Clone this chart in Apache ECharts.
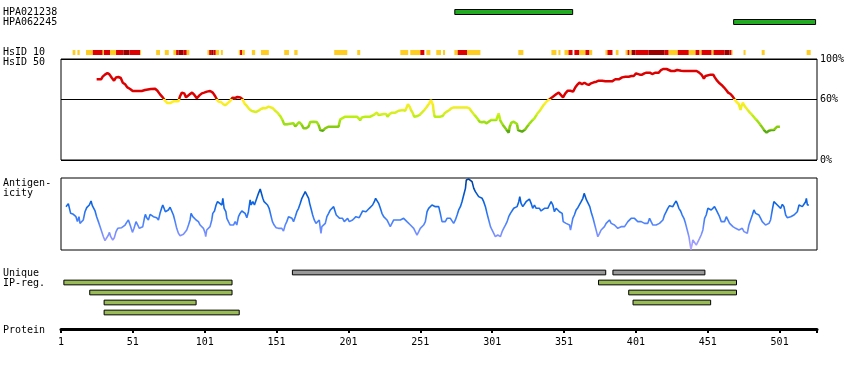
<!DOCTYPE html>
<html><head><meta charset="utf-8">
<script src="https://cdn.jsdelivr.net/npm/echarts@6/dist/echarts.min.js"></script>
<style>html,body{margin:0;padding:0;background:#fff}#c{width:850px;height:370px}</style>
</head><body><div id="c"></div>
<script>
// ---------------- DATA ----------------
const residueMin = 1, residueMax = 527;
const residueTickLabels = [1, 51, 101, 151, 201, 251, 301, 351, 401, 451, 501];
const residueTickMarks = [1, 51, 101, 151, 201, 251, 301, 351, 401, 451, 501, 527];
const percentTicks = [0, 60, 100];

const epitopeNames = ['HPA021238', 'HPA062245'];
const epitopeStart = [275, 469];
const epitopeEnd = [357, 526];

// HsID 10 segments: level 1 = yellow, 2 = red, 3 = dark red
const hsid10Start = [9.1, 12.4, 18.4, 23.1, 30.0, 30.9, 35.1, 39.3, 44.4, 48.6, 56.0, 67.2, 73.2, 79.2, 81.1, 82.7, 86.2, 88.5,
  102.9, 104.1, 105.5, 107.1, 108.7, 112.2, 124.7, 125.6, 127.0, 133.8, 140.1, 156.3, 163.3, 191.1, 207.1,
  237.1, 244.0, 251.0, 255.2, 262.1, 266.8, 274.7, 277.0, 283.5, 319.2, 342.2, 347.1, 351.3, 354.1, 358.2, 361.7, 365.9, 368.7,
  379.8, 381.2, 387.0, 393.8, 395.2, 396.6, 398.0, 400.8, 409.9, 421.0, 423.8, 430.1, 437.8, 442.5, 445.3, 446.7, 453.7,
  455.0, 462.7, 466.2, 467.6, 475.9, 488.5, 519.8];
const hsid10End = [11.0, 14.0, 23.1, 30.0, 30.9, 35.1, 39.3, 44.4, 48.6, 56.0, 56.7, 69.9, 76.0, 81.1, 82.7, 86.2, 88.5, 90.3,
  104.1, 105.5, 107.1, 108.7, 111.0, 113.6, 125.6, 127.0, 128.9, 136.1, 145.6, 159.6, 165.6, 200.2, 209.2,
  242.6, 251.0, 253.8, 258.0, 265.4, 268.2, 277.0, 283.5, 292.8, 322.7, 345.7, 348.5, 354.1, 356.9, 361.7, 365.9, 368.7, 370.6,
  381.2, 384.7, 388.9, 395.2, 396.6, 398.0, 400.8, 409.9, 421.0, 423.8, 430.1, 437.8, 442.5, 445.3, 446.7, 453.7, 455.0,
  462.7, 466.2, 467.6, 468.3, 477.3, 490.6, 522.6];
const hsid10Level = [1, 1, 1, 2, 1, 2, 1, 2, 3, 2, 1, 1, 1, 1, 2, 3, 2, 1,
  1, 2, 3, 2, 1, 1, 1, 2, 1, 1, 1, 1, 1, 1, 1,
  1, 1, 2, 1, 1, 1, 1, 2, 1, 1, 1, 1, 1, 2, 2, 1, 2, 1,
  1, 2, 1, 1, 2, 1, 3, 2, 3, 2, 1, 2, 1, 2, 1, 2, 1,
  2, 3, 2, 1, 1, 1, 1];

const hsid50Pos = [25.8, 28.9, 30.0, 31.6, 33.3, 34.7, 36.3, 37.9, 39.3, 40.9, 42.6, 44.0, 45.6, 47.2, 49.1, 50.9, 53.7, 57.2, 59.5, 60.7,
  63.5, 64.8, 66.5, 68.1, 69.9, 71.8, 73.4, 75.0, 76.9, 79.2, 82.7, 83.9, 85.1, 86.7, 88.0, 89.2, 90.8, 92.2, 93.8, 95.5,
  97.3, 99.0, 100.6, 102.5, 104.8, 106.6, 108.2, 109.4, 110.5, 112.2, 113.6, 115.2, 116.4, 118.7, 120.3, 122.2, 123.8, 125.7, 127.3, 128.6,
  130.3, 132.1, 133.8, 134.9, 136.6, 138.4, 140.1, 141.9, 143.5, 145.4, 146.5, 148.1, 150.0, 151.6, 153.5, 155.1, 156.3, 158.2, 160.5, 161.7,
  162.8, 164.0, 165.1, 166.7, 167.4, 168.6, 169.7, 171.6, 173.2, 174.4, 176.7, 179.0, 180.2, 181.4, 183.2, 184.8, 187.2, 190.6, 194.1, 195.3,
  196.4, 198.8, 202.2, 206.9, 208.0, 209.2, 210.4, 212.7, 216.2, 218.5, 219.6, 220.8, 222.0, 223.1, 225.5, 227.3, 228.2, 229.6, 231.3, 233.6,
  234.7, 235.9, 237.1, 238.9, 240.5, 241.7, 242.4, 243.6, 244.5, 245.6, 246.8, 248.0, 249.1, 250.5, 252.1, 253.8, 255.6, 257.2, 258.4, 259.1,
  259.8, 260.3, 261.0, 262.6, 264.9, 266.5, 267.9, 269.5, 271.2, 272.6, 274.2, 278.8, 283.5, 285.1, 286.3, 288.1, 289.7, 291.1, 292.3, 293.9,
  295.5, 296.9, 298.6, 300.2, 302.0, 303.9, 305.1, 305.5, 306.7, 307.8, 309.0, 310.2, 311.3, 312.5, 313.2, 314.3, 316.0, 317.1, 318.3, 319.0,
  320.2, 321.8, 322.9, 324.1, 325.3, 327.1, 328.7, 330.4, 332.2, 334.1, 336.8, 339.2, 341.0, 342.6, 343.8, 345.7, 347.3, 348.5, 350.3, 351.9,
  353.6, 355.4, 357.3, 358.9, 360.1, 361.7, 363.5, 365.2, 366.6, 368.2, 369.8, 371.7, 373.5, 375.1, 377.5, 379.8, 382.1, 384.4, 386.7, 389.1,
  391.4, 393.7, 396.0, 397.9, 399.5, 401.1, 402.3, 403.7, 405.3, 406.9, 408.3, 410.7, 412.3, 413.4, 414.6, 415.8, 416.9, 418.5, 419.9, 422.3,
  423.9, 425.5, 427.8, 429.7, 430.8, 432.5, 434.3, 436.7, 439.0, 441.3, 443.2, 444.8, 446.4, 447.6, 448.3, 449.4, 450.6, 452.9, 454.8, 455.9,
  457.5, 459.2, 460.6, 462.2, 463.8, 465.2, 466.8, 468.4, 469.6, 471.0, 472.6, 473.8, 474.5, 475.4, 476.6, 478.4, 480.3, 481.9, 483.8, 485.4,
  487.2, 488.9, 490.5, 491.9, 493.5, 495.1, 497.0, 498.2, 499.3, 501.2];
const hsid50Val = [79.9, 79.9, 82.5, 84.5, 86.1, 84.8, 81.5, 78.5, 81.8, 82.2, 81.2, 76.5, 74.9, 71.9, 70.3, 68.3, 68.3, 68.3, 69.3, 70.3,
  70.3, 71.9, 70.6, 68.6, 65.0, 62.0, 58.7, 56.4, 56.4, 58.1, 58.1, 63.4, 66.7, 66.0, 62.0, 63.4, 65.3, 66.7, 64.4, 61.1,
  64.0, 66.0, 66.7, 67.7, 68.3, 66.7, 63.4, 60.1, 57.8, 57.4, 55.8, 54.1, 55.1, 58.4, 61.7, 61.4, 62.4, 62.0, 60.1, 56.1,
  53.5, 50.2, 48.5, 48.8, 47.5, 48.8, 50.5, 51.5, 51.2, 52.8, 54.1, 51.5, 48.8, 46.9, 43.6, 39.6, 35.3, 35.3, 35.9, 37.3,
  36.3, 33.3, 33.7, 37.6, 37.9, 34.7, 31.4, 31.4, 33.0, 37.6, 37.9, 37.6, 34.7, 29.7, 29.0, 31.4, 33.0, 33.0, 33.0, 40.3,
  41.3, 42.9, 42.9, 42.9, 41.3, 39.6, 42.2, 42.9, 42.9, 44.6, 46.2, 46.9, 44.6, 45.5, 45.5, 45.5, 42.9, 45.5, 46.9, 46.9,
  46.2, 48.8, 49.5, 49.5, 48.8, 52.8, 55.1, 52.8, 49.5, 46.9, 42.9, 42.2, 43.6, 44.6, 46.9, 49.5, 52.8, 56.1, 59.4, 60.4,
  54.5, 47.9, 42.9, 42.9, 42.9, 43.6, 46.2, 47.9, 49.5, 51.2, 52.1, 52.1, 52.1, 51.2, 48.8, 45.5, 42.9, 40.3, 37.9, 37.3,
  37.9, 36.3, 37.9, 39.6, 39.6, 39.6, 41.3, 46.2, 38.9, 36.3, 33.7, 31.4, 29.7, 27.1, 33.0, 36.9, 37.9, 37.9, 35.6, 29.7,
  28.1, 28.1, 29.7, 30.4, 33.0, 36.3, 38.9, 41.3, 45.5, 48.8, 54.5, 58.4, 60.1, 62.0, 63.4, 65.3, 66.7, 66.7, 62.0, 66.0,
  68.6, 68.6, 67.7, 72.0, 74.3, 76.5, 75.2, 76.5, 75.2, 74.3, 75.9, 76.9, 77.5, 78.5, 78.5, 77.9, 77.9, 77.9, 79.9, 79.9,
  81.8, 82.5, 82.5, 83.2, 83.2, 85.8, 84.8, 84.5, 84.5, 85.8, 86.5, 86.5, 85.1, 83.8, 86.5, 87.5, 86.5, 89.1, 90.1, 90.1,
  89.1, 88.1, 88.1, 89.1, 90.1, 88.4, 88.1, 88.1, 88.1, 88.1, 88.1, 86.8, 84.8, 82.5, 80.5, 83.2, 84.5, 84.5, 84.5, 81.8,
  78.5, 75.9, 74.3, 72.0, 69.3, 66.7, 65.3, 62.7, 60.1, 57.4, 55.4, 49.5, 53.5, 56.8, 53.5, 50.2, 46.9, 44.6, 41.3, 38.9,
  35.6, 32.3, 29.0, 27.1, 29.0, 29.7, 29.7, 31.0, 33.0, 33.0];

const antigenPos = [4.5, 6.1, 7.3, 7.7, 9.6, 11.4, 12.4, 13.5, 14.2, 15.4, 16.5, 17.7, 18.9, 20.7, 21.9, 22.8, 23.5, 24.7, 25.8, 27.0,
  28.2, 29.3, 30.5, 31.6, 32.8, 34.0, 34.7, 35.6, 37.0, 38.1, 39.3, 40.5, 41.6, 43.2, 44.4, 45.6, 46.7, 47.9, 48.6, 49.5,
  50.7, 51.8, 53.2, 54.4, 55.5, 56.7, 57.9, 59.0, 59.7, 60.6, 61.8, 63.0, 64.1, 65.3, 66.4, 67.6, 68.8, 69.9, 71.1, 71.8,
  72.7, 73.6, 74.6, 75.7, 76.9, 78.1, 79.2, 80.4, 81.5, 82.7, 83.9, 85.0, 86.2, 87.3, 88.5, 89.7, 90.8, 91.5, 92.7, 93.6,
  95.0, 96.6, 97.8, 98.9, 100.1, 101.3, 101.7, 102.4, 103.6, 104.7, 105.9, 106.6, 107.8, 108.9, 109.9, 111.2, 112.9, 113.6, 114.5, 115.7,
  116.4, 117.5, 118.7, 119.8, 121.0, 122.2, 123.3, 124.5, 125.6, 126.8, 128.0, 129.1, 130.3, 131.4, 132.6, 133.3, 134.5, 135.6, 137.2, 138.4,
  139.6, 140.3, 141.4, 142.3, 143.5, 144.7, 145.8, 147.0, 148.1, 149.3, 150.7, 152.3, 153.5, 154.6, 155.8, 157.0, 158.1, 159.3,
  160.5, 161.7, 162.8, 164.0, 165.1, 166.3, 167.5, 168.6, 169.8, 170.9, 172.1, 173.3, 174.0, 174.9, 176.1, 177.2, 178.4, 179.5, 180.7, 181.4,
  181.9, 182.5, 183.7, 184.9, 186.0, 187.2, 188.4, 189.5, 190.7, 191.4, 192.5, 193.7, 194.9, 195.8, 196.9, 198.1, 199.3, 200.4, 201.6, 202.7,
  203.9, 205.1, 206.2, 207.4, 208.5, 209.7, 210.9, 212.0, 213.2, 214.3, 215.5, 216.7, 217.8, 219.0, 219.9, 220.8, 222.0, 223.2, 224.3, 225.5,
  226.6, 227.8, 229.0, 230.1, 231.3, 232.5, 233.6, 234.8, 235.9, 237.1, 238.3, 239.4, 240.6, 241.7, 242.9, 244.1, 245.2, 246.4, 247.5, 248.7,
  249.9, 251.0, 252.2, 253.3, 254.5, 255.7, 256.8, 258.0, 259.1, 260.3, 261.5, 262.6, 263.8, 264.9, 266.1, 267.3, 268.4, 269.6, 270.7, 271.9,
  273.1, 274.2, 275.4, 276.6, 277.7, 278.9, 280.0, 281.2, 282.4, 283.0, 283.5, 284.7, 285.8, 287.0, 288.2, 289.3, 290.5, 291.6, 292.8, 294.0,
  295.1, 296.3, 297.4, 298.6, 299.8, 300.9, 302.1, 303.2, 303.9, 304.9, 305.6, 306.7, 307.9, 309.0, 310.2, 311.4, 312.5, 313.7, 314.8, 316.0,
  317.2, 318.3, 319.5, 320.2, 321.1, 322.3, 323.4, 324.6, 325.8, 326.9, 328.1, 329.2, 330.4, 331.6, 332.7, 333.9, 335.0, 336.2, 337.4, 338.5,
  339.7, 340.8, 342.0, 343.2, 344.3, 345.5, 346.6, 347.8,
  348.5, 349.7, 350.4, 351.3, 352.4, 353.6, 354.8, 355.5, 356.2, 357.1, 358.2, 359.4, 360.6, 361.7, 362.9, 364.1, 365.0, 365.7, 366.6, 367.8,
  368.9, 370.1, 371.2, 372.4, 373.6, 374.5, 375.7, 376.8, 378.0, 379.1, 380.3, 381.5, 382.6, 383.8, 384.9, 386.1, 387.3, 388.4, 389.6, 390.7,
  391.9, 393.1, 394.2, 395.4, 396.5, 397.7, 398.9, 400.0, 401.2, 402.3, 403.5, 404.7, 405.8, 407.0, 408.2, 409.3, 410.5, 411.6, 412.8, 414.0,
  415.1, 416.3, 417.4, 418.6, 419.8, 420.9, 422.1, 423.2, 424.4, 425.6, 426.7, 427.9, 429.0, 429.7, 430.9, 432.1, 433.2, 434.4, 435.5, 436.7,
  437.9, 438.6, 439.3, 440.0, 440.6, 441.8, 443.0, 444.1, 445.3, 446.4, 447.6, 448.8, 449.9, 451.1, 452.3, 453.4, 454.6, 455.7, 456.9, 458.1,
  459.2, 460.4, 461.5, 462.7, 463.9, 465.0, 466.2, 467.3, 468.5, 469.2, 470.4, 471.5, 472.7, 473.8, 475.0, 476.2, 477.3, 478.5, 479.6, 480.8,
  482.0, 483.1, 484.3, 485.4, 486.6, 487.8, 488.9, 490.1, 491.2, 492.4, 493.6, 494.7, 495.9, 497.0, 498.2, 499.4, 500.5, 501.7, 502.9, 504.0,
  505.2, 506.3, 507.5, 508.7, 509.8, 511.0, 512.1, 513.3, 514.5, 515.6, 516.8, 517.9, 519.1, 519.6, 520.3, 521.4];
const antigenVal = [60.2, 64.4, 63.4, 50.9, 49.5, 46.3, 39.4, 46.3, 37.0, 35.7, 41.7, 53.2, 58.8, 62.5, 68.1, 61.6, 60.2, 54.2, 46.3, 39.4,
  32.4, 30.1, 18.5, 13.0, 14.8, 20.8, 24.5, 18.5, 13.9, 17.1, 25.5, 30.1, 27.8, 31.0, 30.1, 34.7, 38.4, 41.7, 44.0, 32.4,
  24.5, 30.1, 39.4, 34.7, 30.1, 29.2, 32.4, 44.0, 49.5, 44.9, 41.7, 49.5, 48.6, 46.3, 48.6, 44.9, 41.7, 50.9, 58.8, 62.5,
  57.9, 53.2, 50.9, 55.6, 59.3, 57.9, 48.6, 39.4, 30.1, 23.2, 19.9, 18.5, 21.8, 24.5, 27.8, 34.7, 41.7, 50.9, 46.3, 44.0,
  41.7, 39.4, 34.7, 37.0, 30.1, 23.2, 18.5, 27.8, 30.1, 32.4, 41.7, 50.9, 54.2, 62.5, 67.1, 69.5, 62.5, 71.8, 57.9, 53.2,
  44.0, 39.4, 34.7, 32.4, 34.7, 39.4, 34.7, 46.3, 50.9, 54.2, 55.6, 50.9, 44.9, 53.2, 69.5, 62.5, 67.1, 62.5, 71.8, 78.7,
  84.7, 82.0, 71.8, 67.1, 64.8, 62.5, 57.9, 55.6, 39.4, 34.7, 31.0, 30.1, 27.8, 30.1, 26.4, 34.7, 39.4, 46.3,
  48.6, 44.0, 39.4, 46.3, 53.2, 57.9, 64.8, 71.8, 76.4, 81.0, 78.7, 71.8, 64.8, 57.9, 48.6, 41.7, 37.0, 39.4, 41.7, 30.1,
  23.2, 32.4, 34.7, 37.0, 46.3, 50.9, 55.6, 53.2, 60.2, 55.6, 48.6, 46.3, 44.0, 41.7, 44.0, 39.4, 41.7, 44.0, 39.4, 41.7,
  41.7, 44.0, 46.3, 44.0, 44.9, 44.9, 54.2, 55.6, 53.2, 53.2, 57.9, 57.9, 62.5, 67.1, 71.8, 71.8, 64.8, 57.9, 50.9, 46.3,
  44.0, 41.7, 39.4, 32.4, 34.7, 41.7, 41.7, 41.7, 41.7, 41.7, 41.7, 44.0, 41.7, 39.4, 38.0, 34.7, 32.4, 30.1, 25.5, 20.8,
  25.5, 30.1, 32.4, 34.7, 39.4, 53.2, 57.9, 60.2, 62.5, 63.4, 60.2, 58.8, 60.2, 50.9, 39.4, 37.0, 39.4, 44.0, 46.3, 44.0,
  44.0, 37.0, 41.7, 48.6, 55.6, 60.2, 67.1, 76.4, 85.6, 97.2, 98.6, 98.6, 98.6, 94.9, 85.6, 81.0, 78.7, 74.1, 71.8, 71.8,
  67.1, 60.2, 50.9, 41.7, 32.4, 27.8, 23.2, 18.5, 16.2, 20.8, 23.2, 18.5, 25.5, 30.1, 34.7, 39.4, 46.3, 50.9, 53.2, 57.9,
  55.6, 60.2, 67.1, 74.1, 64.8, 60.2, 62.5, 67.1, 69.5, 70.8, 64.8, 57.9, 62.5, 57.9, 55.6, 57.9, 54.2, 53.2, 57.9, 55.6,
  57.9, 62.5, 67.1, 62.5, 53.2, 57.9, 55.6, 53.2,
  53.2, 50.9, 39.4, 41.7, 37.0, 39.4, 34.7, 27.8, 34.7, 44.0, 48.6, 55.6, 58.8, 60.2, 67.1, 71.8, 78.7, 76.4, 69.5, 64.8,
  60.2, 50.9, 44.0, 34.7, 25.5, 18.5, 23.2, 27.8, 30.1, 32.4, 37.0, 39.4, 41.7, 37.0, 34.7, 34.7, 32.4, 30.1, 27.8, 32.4,
  30.1, 32.4, 34.7, 39.4, 41.7, 44.0, 41.7, 44.0, 41.7, 39.4, 37.0, 39.4, 37.0, 37.0, 39.4, 37.0, 44.0, 39.4, 34.7, 32.4,
  34.7, 37.0, 37.0, 39.4, 41.7, 48.6, 53.2, 57.9, 61.6, 62.5, 60.2, 64.8, 68.1, 64.8, 57.9, 54.2, 48.6, 44.0, 37.0, 27.8,
  18.5, 9.3, 0.5, 6.9, 13.9, 11.6, 6.9, 9.3, 16.2, 20.8, 27.8, 44.0, 48.6, 57.9, 60.2, 55.6, 57.9, 60.2, 55.6, 53.2,
  46.3, 39.4, 37.0, 39.4, 46.3, 44.0, 37.0, 34.7, 32.4, 32.4, 30.1, 29.2, 27.8, 27.8, 30.1, 25.5, 23.2, 23.2, 34.7, 41.7,
  48.6, 55.6, 50.9, 50.9, 48.6, 44.0, 39.4, 37.0, 34.7, 32.4, 37.0, 41.7, 55.6, 67.1, 68.1, 62.5, 60.2, 57.9, 63.4, 60.2,
  48.6, 44.9, 46.3, 46.3, 46.3, 48.6, 50.9, 53.2, 62.5, 64.8, 60.2, 62.5, 67.1, 71.8, 62.5, 62.5];

const uniqueStart = [162, 385];
const uniqueEnd = [380, 449];
const ipRow = [1, 1, 2, 2, 3, 3, 4];
const ipStart = [3, 375, 21, 396, 31, 399, 31];
const ipEnd = [120, 471, 120, 471, 95, 453, 125];
const regionRows = ['Unique', 'IP1', 'IP2', 'IP3', 'IP4'];

// ---------------- CHART ----------------
const FONT = '"DejaVu Sans Mono", monospace';
const chart = echarts.init(document.getElementById('c'), null, {renderer: 'canvas'});
const L = 61, R = 33;
const hidX = (gi) => ({gridIndex: gi, type: 'value', min: residueMin, max: residueMax, show: false});
const hsid10Colors = ['#ffffff', '#ffcc22', '#dd0000', '#990000'];

function barRender(fill, frac) {
  return function (params, api) {
    const p0 = api.coord([api.value(0), api.value(2)]);
    const p1 = api.coord([api.value(1), api.value(2)]);
    const h = api.size([0, 1])[1] * frac;
    return {type: 'rect', shape: {x: p0[0], y: p0[1] - h / 2, width: p1[0] - p0[0], height: h},
      style: {fill: fill, stroke: '#000', lineWidth: 1}};
  };
}

const option = {
  animation: false,
  backgroundColor: '#fff',
  textStyle: {fontFamily: FONT},
  grid: [
    {left: L, right: R, top: 7, height: 20},
    {left: L, right: R, top: 50, height: 5},
    {left: L, right: R, top: 59, height: 101, show: true, borderColor: '#000', borderWidth: 1},
    {left: L, right: R, top: 178, height: 72, show: true, borderColor: '#000', borderWidth: 1},
    {left: L, right: R, top: 267.5, height: 50},
    {left: L, right: R, top: 320, height: 9}
  ],
  xAxis: [hidX(0), hidX(1), hidX(2), hidX(3), hidX(4), {
    gridIndex: 5, type: 'value', min: residueMin, max: residueMax, position: 'bottom',
    axisLine: {show: true, lineStyle: {color: '#000', width: 3}},
    axisTick: {show: true, length: 4, customValues: residueTickMarks, lineStyle: {color: '#000', width: 2}},
    axisLabel: {show: true, customValues: residueTickLabels, margin: 8, color: '#000', fontFamily: FONT, fontSize: 10},
    splitLine: {show: false}
  }],
  yAxis: [
    {gridIndex: 0, type: 'category', data: epitopeNames, inverse: true,
      axisLine: {show: false}, axisTick: {show: false}, splitLine: {show: false},
      axisLabel: {show: true, interval: 0, align: 'left', margin: 58, color: '#000', fontFamily: FONT, fontSize: 10}},
    {gridIndex: 1, type: 'category', data: ['HsID10'], show: false},
    {gridIndex: 2, type: 'value', min: 0, max: 100, interval: 60, position: 'right',
      axisLine: {show: false}, axisTick: {show: false},
      splitLine: {show: true, lineStyle: {color: '#000', width: 1.2}},
      axisLabel: {show: true, customValues: percentTicks, formatter: '{value}%', margin: 3, color: '#000', fontFamily: FONT, fontSize: 10}},
    {gridIndex: 3, type: 'value', min: 0, max: 100, show: false, splitLine: {show: false}},
    {gridIndex: 4, type: 'category', data: regionRows, inverse: true, show: false},
    {gridIndex: 5, type: 'value', min: 0, max: 1, show: false}
  ],
  visualMap: [
    {type: 'piecewise', show: false, seriesIndex: 2, dimension: 1, pieces: [
      {gte: 60, color: '#dd0000'},
      {gte: 55, lt: 60, color: '#ffee22'},
      {gte: 50, lt: 55, color: '#eeee22'},
      {gte: 45, lt: 50, color: '#d8ee22'},
      {gte: 40, lt: 45, color: '#bbee11'},
      {gte: 35, lt: 40, color: '#9ee011'},
      {gte: 30, lt: 35, color: '#88cc11'},
      {lt: 30, color: '#5aaa11'}
    ]},
    {type: 'continuous', show: false, seriesIndex: 3, dimension: 1, min: 0, max: 100,
      inRange: {color: ['#b8a8ff', '#8a94ff', '#5c88ff', '#2a76f4', '#0a62e0', '#0050c0', '#003a90']}}
  ],
  graphic: [
    {type: 'text', x: 3, y: 52, style: {text: 'HsID 10', font: '10px ' + FONT, fill: '#000', verticalAlign: 'middle'}},
    {type: 'text', x: 3, y: 62, style: {text: 'HsID 50', font: '10px ' + FONT, fill: '#000', verticalAlign: 'middle'}},
    {type: 'text', x: 3, y: 183, style: {text: 'Antigen-', font: '10px ' + FONT, fill: '#000', verticalAlign: 'middle'}},
    {type: 'text', x: 3, y: 193, style: {text: 'icity', font: '10px ' + FONT, fill: '#000', verticalAlign: 'middle'}},
    {type: 'text', x: 3, y: 273, style: {text: 'Unique', font: '10px ' + FONT, fill: '#000', verticalAlign: 'middle'}},
    {type: 'text', x: 3, y: 283, style: {text: 'IP-reg.', font: '10px ' + FONT, fill: '#000', verticalAlign: 'middle'}},
    {type: 'text', x: 3, y: 330, style: {text: 'Protein', font: '10px ' + FONT, fill: '#000', verticalAlign: 'middle'}}
  ],
  series: [
    {type: 'custom', xAxisIndex: 0, yAxisIndex: 0, encode: {x: [0, 1], y: 2},
      data: epitopeStart.map((s, i) => [s, epitopeEnd[i], i]),
      renderItem: barRender('#22aa22', 0.5)},
    {type: 'custom', xAxisIndex: 1, yAxisIndex: 1, encode: {x: [0, 1], y: 2},
      data: hsid10Start.map((s, i) => [s, hsid10End[i], 0, hsid10Level[i]]),
      renderItem: function (params, api) {
        const p0 = api.coord([api.value(0), 0]);
        const p1 = api.coord([api.value(1), 0]);
        const h = api.size([0, 1])[1];
        return {type: 'rect', shape: {x: p0[0], y: p0[1] - h / 2, width: p1[0] - p0[0], height: h},
          style: {fill: hsid10Colors[api.value(3)]}};
      }},
    {type: 'line', xAxisIndex: 2, yAxisIndex: 2, symbol: 'none', z: 5,
      lineStyle: {width: 2.5},
      data: hsid50Pos.map((p, i) => [p, hsid50Val[i]])},
    {type: 'line', xAxisIndex: 3, yAxisIndex: 3, symbol: 'none',
      lineStyle: {width: 1.6},
      data: antigenPos.map((p, i) => [p, antigenVal[i]])},
    {type: 'custom', xAxisIndex: 4, yAxisIndex: 4, encode: {x: [0, 1], y: 2},
      data: uniqueStart.map((s, i) => [s, uniqueEnd[i], 0]),
      renderItem: barRender('#999999', 0.47)},
    {type: 'custom', xAxisIndex: 4, yAxisIndex: 4, encode: {x: [0, 1], y: 2},
      data: ipStart.map((s, i) => [s, ipEnd[i], ipRow[i]]),
      renderItem: barRender('#99bb55', 0.47)}
  ]
};
chart.setOption(option);
</script>
</body></html>
